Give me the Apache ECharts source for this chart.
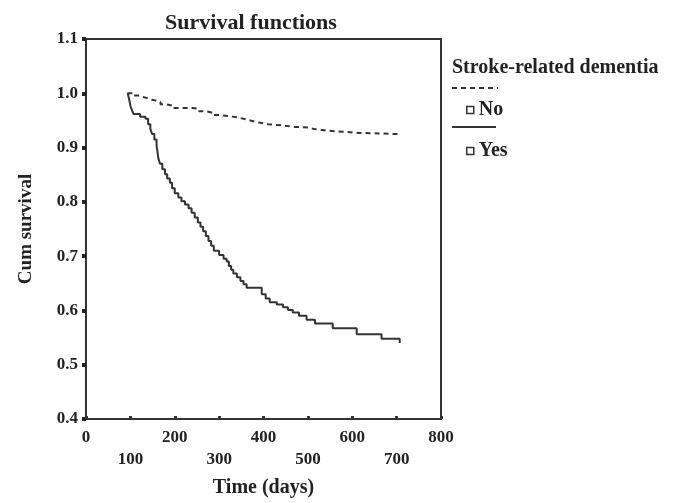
<!DOCTYPE html>
<html>
<head>
<meta charset="utf-8">
<script src="https://cdn.jsdelivr.net/npm/echarts@6/dist/echarts.min.js"></script>
<style>
  html, body { margin: 0; padding: 0; background: #fff; }
  #chart { width: 683px; height: 503px; }
</style>
</head>
<body>
<div id="chart"></div>
<script>
// 数据：Kaplan-Meier 生存曲线
const xTicks = [0, 100, 200, 300, 400, 500, 600, 700, 800]
const yTicks = [0.4, 0.5, 0.6, 0.7, 0.8, 0.9, 1.0, 1.1]
const seriesNames = ['No', 'Yes']

// Stroke-related dementia = No（虚线）
const daysNo = [93, 105, 118, 130, 142, 155, 168, 180, 195, 240, 255, 270, 285, 300, 330, 345, 360, 375, 390, 410, 440, 470, 500, 515, 545, 585, 615, 700, 707]
const survNo = [1.000, 0.996, 0.993, 0.990, 0.987, 0.984, 0.980, 0.977, 0.973, 0.971, 0.967, 0.964, 0.960, 0.957, 0.955, 0.952, 0.949, 0.946, 0.943, 0.941, 0.938, 0.937, 0.934, 0.931, 0.929, 0.927, 0.925, 0.924, 0.921]

// Stroke-related dementia = Yes（实线）
const daysYes = [94, 97, 100, 104, 107, 122, 134, 140, 145, 149, 154, 159, 161, 163, 167, 172, 178, 183, 189, 194, 200, 208, 215, 223, 231, 238, 245, 252, 258, 264, 270, 276, 282, 288, 300, 310, 317, 322, 327, 332, 340, 348, 355, 362, 396, 405, 414, 430, 444, 455, 466, 480, 497, 516, 556, 610, 666, 707]
const survYes = [1.000, 0.990, 0.977, 0.968, 0.962, 0.957, 0.953, 0.943, 0.934, 0.925, 0.915, 0.904, 0.893, 0.880, 0.870, 0.860, 0.851, 0.843, 0.835, 0.825, 0.816, 0.808, 0.801, 0.795, 0.788, 0.780, 0.771, 0.762, 0.754, 0.746, 0.737, 0.728, 0.719, 0.710, 0.702, 0.695, 0.690, 0.682, 0.675, 0.668, 0.661, 0.654, 0.648, 0.642, 0.630, 0.622, 0.615, 0.611, 0.606, 0.601, 0.596, 0.590, 0.583, 0.576, 0.567, 0.556, 0.548, 0.540]

const serif = 'Liberation Serif'
const ink = '#222'

const chart = echarts.init(document.getElementById('chart'))

// 把两个数组拼成 [x, y]
const pairs = (xs, ys) => xs.map((x, i) => [x, ys[i]])

const option = {
  backgroundColor: '#fff',
  animation: false,
  title: {
    text: 'Survival functions',
    left: 246,
    textAlign: 'center',
    top: 7,
    textStyle: { fontFamily: serif, fontWeight: 'bold', fontSize: 22, color: ink }
  },
  grid: {
    left: 86,
    top: 39,
    right: 242,
    bottom: 80,
    show: true,
    borderColor: '#333',
    borderWidth: 2
  },
  legend: {
    data: seriesNames.map(name => ({
      name,
      icon: 'rect',
      itemStyle: { color: '#fff', borderColor: '#333', borderWidth: 1.5 }
    })),
    orient: 'vertical',
    left: 461,
    top: 95,
    itemWidth: 7,
    itemHeight: 7,
    itemGap: 21,
    selectedMode: false,
    textStyle: { fontFamily: serif, fontWeight: 'bold', fontSize: 20, color: ink }
  },
  // 图例标题和线型示意
  graphic: [
    {
      type: 'text',
      left: 452,
      top: 58,
      style: { text: 'Stroke-related dementia', fontFamily: serif, fontWeight: 'bold', fontSize: 20, fill: ink }
    },
    {
      type: 'line',
      shape: { x1: 452, y1: 88, x2: 498, y2: 88 },
      style: { stroke: '#333', lineWidth: 2, lineDash: [5, 4] }
    },
    {
      type: 'line',
      shape: { x1: 452, y1: 127, x2: 496, y2: 127 },
      style: { stroke: '#333', lineWidth: 2 }
    }
  ],
  xAxis: {
    type: 'value',
    min: xTicks[0],
    max: xTicks[xTicks.length - 1],
    interval: 100,
    name: 'Time (days)',
    nameLocation: 'middle',
    nameGap: 59,
    nameTextStyle: { fontFamily: serif, fontWeight: 'bold', fontSize: 20, color: ink },
    axisLine: { lineStyle: { color: '#333', width: 2 } },
    axisTick: { show: true, inside: true, length: 3, lineStyle: { color: '#333', width: 3 } },
    splitLine: { show: false },
    axisLabel: {
      margin: 8,
      fontFamily: serif,
      fontWeight: 'bold',
      fontSize: 17,
      lineHeight: 22,
      color: ink,
      // 奇数百的刻度放在第二行
      formatter: v => (v / 100) % 2 === 1 ? '\n' + v : String(v)
    }
  },
  yAxis: {
    type: 'value',
    min: yTicks[0],
    max: yTicks[yTicks.length - 1],
    interval: 0.1,
    name: 'Cum survival',
    nameLocation: 'middle',
    nameGap: 50,
    nameTextStyle: { fontFamily: serif, fontWeight: 'bold', fontSize: 19, color: ink },
    axisLine: { show: true, lineStyle: { color: '#333', width: 2 } },
    axisTick: { show: true, length: 4, lineStyle: { color: '#222', width: 4 } },
    splitLine: { show: false },
    axisLabel: {
      margin: 8,
      fontFamily: serif,
      fontWeight: 'bold',
      fontSize: 17,
      color: ink,
      formatter: v => v.toFixed(1)
    }
  },
  series: [
    {
      name: seriesNames[0],
      type: 'line',
      step: 'end',
      symbol: 'none',
      data: pairs(daysNo, survNo),
      lineStyle: { color: '#333', width: 2, type: [5, 4] }
    },
    {
      name: seriesNames[1],
      type: 'line',
      step: 'end',
      symbol: 'none',
      data: pairs(daysYes, survYes),
      lineStyle: { color: '#333', width: 2 }
    }
  ]
}

chart.setOption(option)
</script>
</body>
</html>
